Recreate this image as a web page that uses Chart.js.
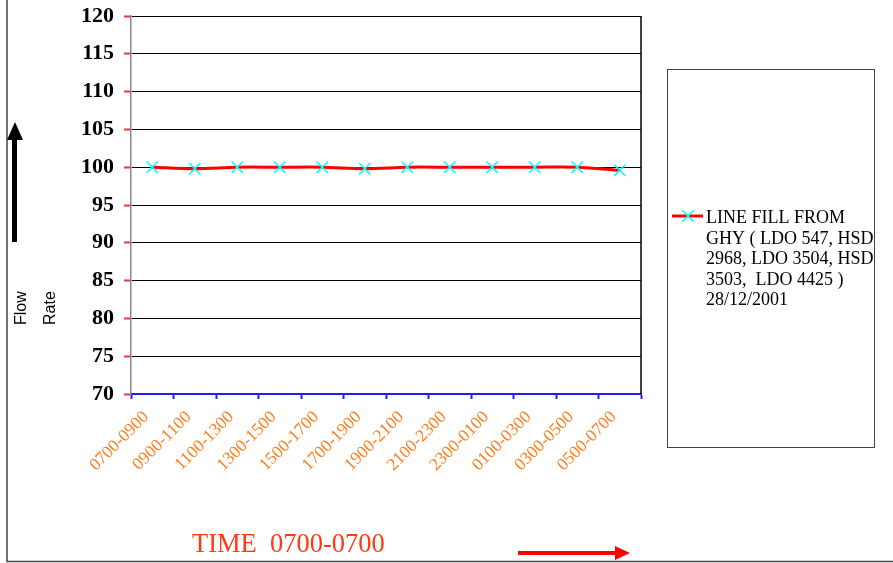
<!DOCTYPE html>
<html>
<head>
<meta charset="utf-8">
<script src="https://cdn.jsdelivr.net/npm/chart.js@4/dist/chart.umd.min.js"></script>
<style>
  html, body { margin: 0; padding: 0; background: #fff; }
  #wrap { width: 893px; height: 563px; position: relative; }
</style>
</head>
<body>
<div id="wrap"><canvas id="myChart" width="893" height="563"></canvas></div>
<script>
var timeSlots = ["0700-0900", "0900-1100", "1100-1300", "1300-1500", "1500-1700", "1700-1900",
                 "1900-2100", "2100-2300", "2300-0100", "0100-0300", "0300-0500", "0500-0700"];
var flowRate = [100, 99.8, 100, 100, 100, 99.8, 100, 100, 100, 100, 100, 99.6];
var yTicks = [70, 75, 80, 85, 90, 95, 100, 105, 110, 115, 120];
var legendLines = ["LINE FILL FROM", "GHY ( LDO 547, HSD", "2968, LDO 3504, HSD", "3503,  LDO 4425 )", "28/12/2001"];
var serif = "'Liberation Serif', 'Times New Roman', serif";

// frame, arrows, side labels and legend box
const extras = {
    id: 'extras',
    afterDraw(chart){
        const ctx = chart.ctx, a = chart.chartArea;
        ctx.save();
        // plot right border
        ctx.strokeStyle = '#000';
        ctx.lineWidth = 1.5;
        ctx.beginPath();
        ctx.moveTo(a.right, a.top);
        ctx.lineTo(a.right, a.bottom);
        ctx.stroke();
        // outer frame (left + bottom)
        ctx.strokeStyle = '#444';
        ctx.lineWidth = 1.5;
        ctx.beginPath();
        ctx.moveTo(7, 0);
        ctx.lineTo(7, 561.5);
        ctx.lineTo(893, 561.5);
        ctx.stroke();
        // up arrow
        ctx.fillStyle = '#000';
        ctx.fillRect(12, 138, 5, 104);
        ctx.beginPath();
        ctx.moveTo(15, 122);
        ctx.lineTo(23, 140);
        ctx.lineTo(7, 140);
        ctx.closePath();
        ctx.fill();
        // right arrow
        ctx.fillStyle = '#ff0000';
        ctx.fillRect(518, 551, 99, 4);
        ctx.beginPath();
        ctx.moveTo(630, 553);
        ctx.lineTo(615, 546);
        ctx.lineTo(615, 560);
        ctx.closePath();
        ctx.fill();
        // Flow / Rate
        ctx.fillStyle = '#000';
        ctx.font = "16px 'Liberation Sans', Arial, sans-serif";
        ctx.textBaseline = 'middle';
        ctx.textAlign = 'left';
        ctx.save();
        ctx.translate(22, 325);
        ctx.rotate(-Math.PI / 2);
        ctx.fillText('Flow', 0, 0);
        ctx.restore();
        ctx.save();
        ctx.translate(51, 325);
        ctx.rotate(-Math.PI / 2);
        ctx.fillText('Rate', 0, 0);
        ctx.restore();
        // x title
        ctx.fillStyle = '#ff3a10';
        ctx.font = "26.5px " + serif;
        ctx.textBaseline = 'alphabetic';
        ctx.fillText('TIME  0700-0700', 192, 552);
        // legend box
        ctx.strokeStyle = '#444';
        ctx.lineWidth = 1;
        ctx.strokeRect(667.5, 69.5, 207, 378);
        ctx.strokeStyle = '#ff0000';
        ctx.lineWidth = 3;
        ctx.beginPath();
        ctx.moveTo(672, 216);
        ctx.lineTo(703, 216);
        ctx.stroke();
        ctx.strokeStyle = '#00ffff';
        ctx.lineWidth = 1.5;
        ctx.beginPath();
        ctx.moveTo(682, 210); ctx.lineTo(694, 222);
        ctx.moveTo(694, 210); ctx.lineTo(682, 222);
        ctx.stroke();
        ctx.fillStyle = '#000';
        ctx.font = "18px " + serif;
        legendLines.forEach((t, i) => {
            ctx.fillText(t, 706, 223 + i * 20.5);
        });
        ctx.restore();
    }
};

new Chart("myChart", {
    type: "line",
    data: {
        labels: timeSlots,
        datasets: [{
            label: legendLines.join(' '),
            data: flowRate,
            borderColor: '#ff0000',
            borderWidth: 3,
            tension: 0.3,
            pointStyle: 'crossRot',
            pointRadius: 8,
            pointBorderColor: '#00ffff',
            pointBorderWidth: 1.5,
            fill: false
        }]
    },
    options: {
        responsive: false,
        animation: false,
        layout: { padding: { top: 16, right: 252, left: 0, bottom: 0 } },
        plugins: { legend: { display: false }, tooltip: { enabled: false } },
        scales: {
            x: {
                offset: true,
                afterFit: s => { s.height = 169; s.paddingLeft = 0; s.paddingRight = 0; },
                grid: { offset: true, drawOnChartArea: false, color: '#2020ff', tickLength: 5, tickWidth: 2 },
                border: { color: '#2020ff', width: 2 },
                ticks: {
                    minRotation: 45, maxRotation: 45, padding: 8, labelOffset: -6, autoSkip: false,
                    color: '#ff7f20', font: { family: serif, size: 17.5 }
                }
            },
            y: {
                min: 70, max: 120,
                afterFit: s => { s.width = 131; s.paddingTop = 0; s.paddingBottom = 0; },
                afterBuildTicks: s => { s.ticks = yTicks.map(v => ({ value: v })); },
                grid: { color: '#000', lineWidth: 1, tickColor: '#ff3030', tickLength: 7, tickWidth: 2 },
                border: { color: '#888', width: 1.5 },
                ticks: {
                    padding: 10, color: '#000',
                    font: { family: serif, size: 22, weight: 'bold' }
                }
            }
        }
    },
    plugins: [extras]
});
</script>
</body>
</html>
